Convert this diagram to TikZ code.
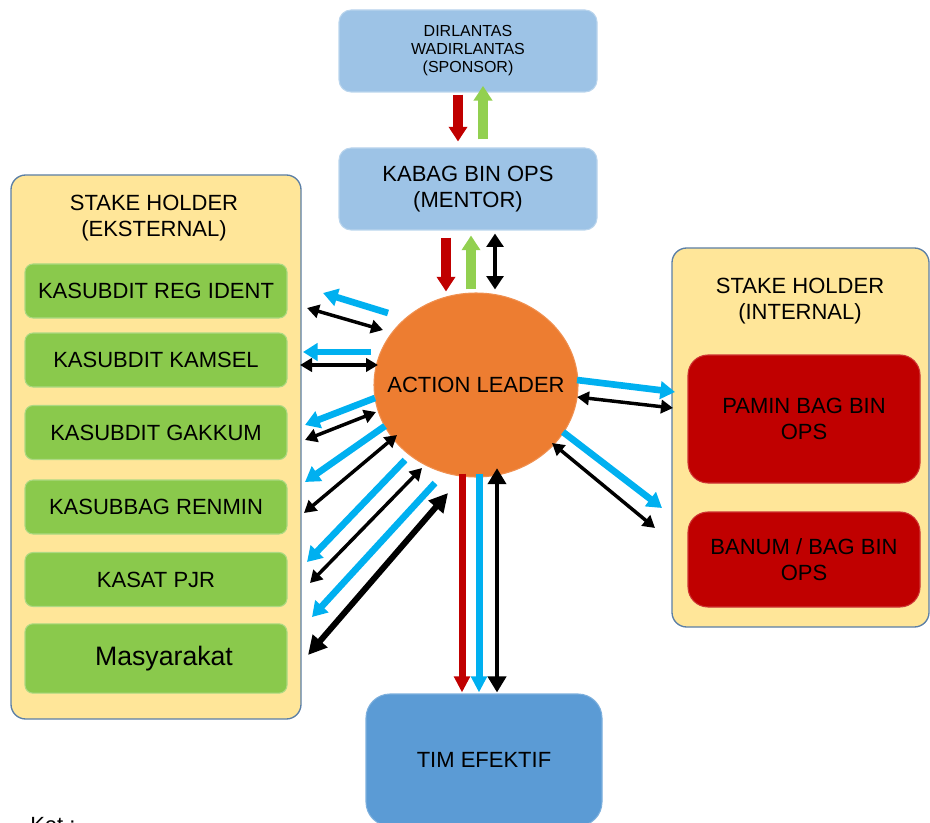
\documentclass[tikz,border=0pt]{standalone}
\usepackage{fontspec}
\setmainfont{Liberation Sans}
\usetikzlibrary{arrows.meta,shapes.geometric}

\definecolor{sponsorblue}{HTML}{9DC3E6}
\definecolor{timblue}{HTML}{5B9BD5}
\definecolor{leaderorange}{HTML}{ED7D31}
\definecolor{holderyellow}{HTML}{FFE699}
\definecolor{holderline}{HTML}{5B7FA6}
\definecolor{kasubgreen}{HTML}{8AC94C}
\definecolor{internred}{HTML}{C00000}
\definecolor{flowblue}{HTML}{00B0F0}
\definecolor{flowgreen}{HTML}{92D050}
\definecolor{flowred}{HTML}{C00000}

\tikzset{
	bigfont/.style={font=\fontsize{16.5}{19.5}\selectfont},
	skybox/.style={rounded corners=9pt, fill=sponsorblue, draw=sponsorblue!70!white, line width=0.8pt, align=center, inner sep=0pt, minimum width=193.5pt, minimum height=61.5pt},
	holderbox/.style={rounded corners=11pt, fill=holderyellow, draw=holderline, line width=1pt},
	kasubbox/.style={rounded corners=6pt, fill=kasubgreen, draw=kasubgreen!70!white, line width=0.8pt, minimum width=196.5pt, minimum height=40.5pt, inner sep=0pt, bigfont},
	internbox/.style={rounded corners=15pt, fill=internred, draw=internred!80!white, line width=0.8pt, minimum width=174pt, align=center, inner sep=0pt, bigfont},
	bluearrow/.style={draw=flowblue, fill=flowblue, line width=5pt, -{Triangle[length=11pt,width=13pt]}},
	blackarrow/.style={draw=black, line width=2.6pt, {Triangle[length=9pt,width=10pt]}-{Triangle[length=9pt,width=10pt]}},
	fatblackarrow/.style={draw=black, line width=4.5pt, {Triangle[length=14pt,width=14pt]}-{Triangle[length=14pt,width=14pt]}},
	vredarrow/.style={draw=flowred, line width=7.5pt, -{Triangle[length=11pt,width=13.5pt]}},
	vgreenarrow/.style={draw=flowgreen, line width=7.5pt, -{Triangle[length=11pt,width=13.5pt]}},
	vblackarrow/.style={draw=black, line width=3.5pt, {Triangle[length=10pt,width=12.5pt]}-{Triangle[length=10pt,width=12.5pt]}},
	longarrow/.style={line width=5.25pt, -{Triangle[length=12pt,width=11.5pt]}},
	longblackarrow/.style={draw=black, line width=3pt, {Triangle[length=12pt,width=13.5pt]}-{Triangle[length=12pt,width=13.5pt]}}
}

\begin{document}
\begin{tikzpicture}[x=0.75pt, y=-0.75pt]
	%%%%% START %%%%%
	\useasboundingbox (0,0) rectangle (930,823);
	
	\node[skybox, font=\fontsize{12}{13.5}\selectfont] (sponsor) at (468,51) {DIRLANTAS\\WADIRLANTAS\\(SPONSOR)};
	\node[skybox, bigfont] (mentor) at (468,189) {KABAG BIN OPS\\(MENTOR)};
	
	\node[ellipse, fill=leaderorange, draw=leaderorange!85!white, line width=0.8pt, minimum width=153pt, minimum height=138pt, inner sep=0pt, label={[bigfont]center:ACTION LEADER}] (leader) at (476,385) {};
	
	% stake holder eksternal
	\node[holderbox, minimum width=217.5pt, minimum height=408pt] (ekst) at (156,447) {};
	\node[bigfont, align=center] (eksttitle) at (154,218) {STAKE HOLDER\\(EKSTERNAL)};
	\node[kasubbox] (regident) at (156,291) {KASUBDIT REG IDENT};
	\node[kasubbox] (kamsel) at (156,360) {KASUBDIT KAMSEL};
	\node[kasubbox] (gakkum) at (156,432.5) {KASUBDIT GAKKUM};
	\node[kasubbox] (renmin) at (156,507) {KASUBBAG RENMIN};
	\node[kasubbox] (pjr) at (156,579.5) {KASAT PJR};
	\node[kasubbox, minimum height=52pt, font=\fontsize{20}{24}\selectfont] (masy) at (156,658.5) {\hspace{12pt}Masyarakat};
	
	% stake holder internal
	\node[holderbox, minimum width=192.75pt, minimum height=284.25pt] (intern) at (800.5,437.5) {};
	\node[bigfont, align=center] (interntitle) at (800,301) {STAKE HOLDER\\(INTERNAL)};
	\node[internbox, minimum height=96pt] (pamin) at (804,419) {PAMIN BAG BIN\\OPS};
	\node[internbox, minimum height=71.25pt] (banum) at (804,559.5) {BANUM / BAG BIN\\OPS};
	
	\node[rounded corners=18pt, fill=timblue, draw=timblue!80!white, line width=0.8pt, minimum width=177pt, minimum height=99pt, inner sep=0pt, bigfont] (tim) at (484,760) {TIM EFEKTIF};
	
	\node[anchor=north west, inner sep=0pt, bigfont] (ket) at (30,817) {Ket :};
	
	% sponsor - mentor - leader
	\draw[vredarrow, shorten <=1.5pt, shorten >=4.5pt] ([xshift=-7.5pt]sponsor.south) -- ([xshift=-7.5pt]mentor.north);
	\draw[vgreenarrow, shorten <=6pt, shorten >=-5pt] ([xshift=11.25pt]mentor.north) -- ([xshift=11.25pt]sponsor.south);
	\draw[vredarrow, shorten <=5.25pt, shorten >=0.75pt] ([xshift=-16.5pt]mentor.south) -- ([xshift=-16.5pt]mentor.south |- leader.north);
	\draw[vgreenarrow, shorten <=2.25pt, shorten >=3.75pt] ([xshift=2.25pt]mentor.south |- leader.north) -- ([xshift=2.25pt]mentor.south);
	\draw[vblackarrow, shorten <=2.25pt, shorten >=2.25pt] ([xshift=20.25pt]mentor.south) -- ([xshift=20.25pt]mentor.south |- leader.north);
	
	% leader - tim efektif
	\draw[longarrow, draw=flowred, shorten <=-3pt, shorten >=0.75pt] ([xshift=-16.5pt]tim.north |- leader.south) -- ([xshift=-16.5pt]tim.north);
	\draw[longarrow, draw=flowblue, shorten <=-3pt, shorten >=0.75pt] ([xshift=-3.75pt]tim.north |- leader.south) -- ([xshift=-3.75pt]tim.north);
	\draw[longblackarrow, shorten <=-7pt, shorten >=0.75pt] ([xshift=9.75pt]tim.north |- leader.south) -- ([xshift=9.75pt]tim.north);
	
	% leader - eksternal
	\foreach \n/\xa/\ya/\xb/\yb in {a/388/313/323/293, b/371/352/303/352, c/375/398/305/425, d/385/426/305/482, e/405/460/307/562, f/435/483/312/617}{
		\coordinate (bfrom\n) at (\xa,\ya);
		\coordinate (bto\n) at (\xb,\yb);
		\draw[bluearrow] (bfrom\n) -- (bto\n);
	}
	\foreach \n/\xa/\ya/\xb/\yb in {a/307/308/383/330, b/300/365/378/365, c/305/440/376/412, d/304/513/397/435, e/310/583/422/468}{
		\coordinate (kfrom\n) at (\xa,\ya);
		\coordinate (kto\n) at (\xb,\yb);
		\draw[blackarrow] (kfrom\n) -- (kto\n);
	}
	\coordinate (kfromf) at (308,655);
	\coordinate (ktof) at (448,493);
	\draw[fatblackarrow] (kfromf) -- (ktof);
	
	% leader - internal
	\foreach \n/\xa/\ya/\xb/\yb in {g/577/380/675/392, h/563/432/662/508}{
		\coordinate (bfrom\n) at (\xa,\ya);
		\coordinate (bto\n) at (\xb,\yb);
		\draw[bluearrow] (bfrom\n) -- (bto\n);
	}
	\foreach \n/\xa/\ya/\xb/\yb in {g/577/397/673/408, h/552/443/655/528}{
		\coordinate (kfrom\n) at (\xa,\ya);
		\coordinate (kto\n) at (\xb,\yb);
		\draw[blackarrow] (kfrom\n) -- (kto\n);
	}
	
	%%%%% END %%%%%
\end{tikzpicture}
\end{document}
